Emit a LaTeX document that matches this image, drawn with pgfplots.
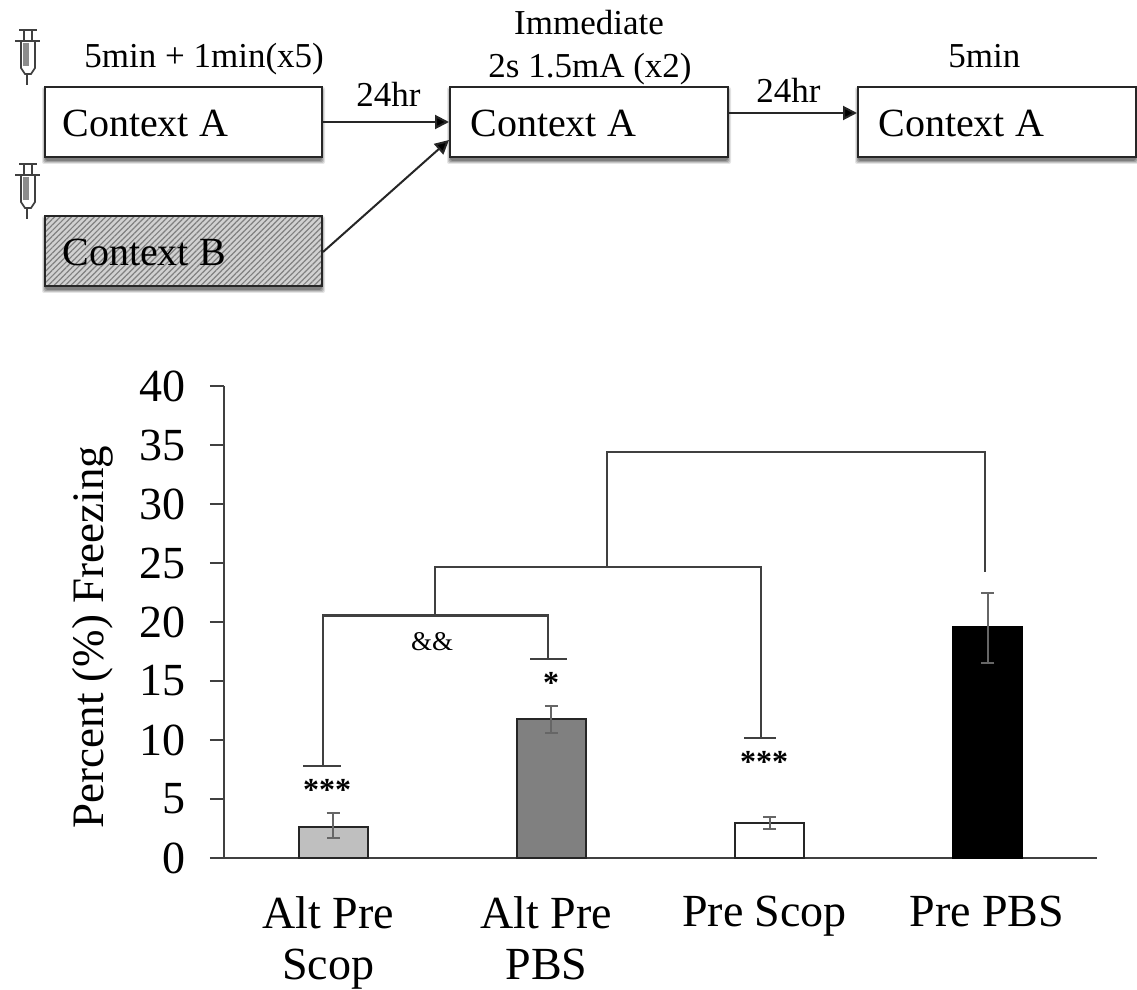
\documentclass[border=0pt]{standalone}
\usepackage{fontspec}
\setmainfont{Liberation Serif}
\usepackage{pgfplots}
\pgfplotsset{compat=1.18}
\usetikzlibrary{arrows.meta,patterns.meta}
\definecolor{linec}{HTML}{404040}
\newcommand{\fs}[1]{\fontsize{#1}{#1}\selectfont}
\newcommand{\ctxbox}[5]{% x0 y0 x1 y1 fill-options
  \foreach \k/\o in {4/0.10,3/0.14,2/0.18,0.8/0.22}{
    \fill[black,opacity=\o,rounded corners=1pt] (#1-\k+1,#2+4-\k) rectangle (#3+\k-1,#4+3+\k);
  }
  \fill[white] (#1,#2) rectangle (#3,#4);
  \path[#5] (#1,#2) rectangle (#3,#4);
  \draw[black!85,line width=1pt] (#1,#2) rectangle (#3,#4);
}
\newcommand{\syringe}[1]{%
  \begin{scope}[yshift=#1,black!75,line width=.8pt]
    \draw[line width=.9pt] (19,30) -- (37,30);
    \draw (24,30) -- (24,41) (32,30) -- (32,41);
    \draw[line width=1.1pt] (15,41) -- (40,41);
    \draw[line width=.9pt] (21,41) -- (21,68) -- (25,74) -- (31,74) -- (35,68) -- (35,41);
    \fill[black!45] (23,43) rectangle (29,66);
    \draw[line width=1.1pt] (27,74) -- (27,85);
  \end{scope}
}
\begin{document}
\begin{tikzpicture}
\useasboundingbox (0pt,0pt) rectangle (568.5pt,-495pt);
\begin{axis}[
  at={(112pt,-429pt)}, anchor=south west,
  scale only axis, width=436.5pt, height=236pt,
  xmin=-0.5, xmax=3.5, ymin=0, ymax=40,
  axis x line*=bottom, axis y line*=left,
  axis line style={draw=linec,line width=1pt,-},
  ytick={0,5,...,40},
  xtick={0,1,2,3},
  xticklabels={Alt Pre\\Scop,Alt Pre\\PBS,Pre Scop,\hspace{4pt}Pre PBS},
  x tick label style={align=center,font=\fontsize{23}{25.5}\selectfont,yshift=-8.6pt,xshift=-2.5pt},
  y tick label style={font=\fs{23},xshift=-8.5pt},
  /pgf/number format/assume math mode=true,
  tick align=outside,
  major tick length=7pt,
  ytick style={draw=linec,line width=.8pt},
  xtick style={draw=none},
  ylabel={Percent (\%) Freezing},
  ylabel style={font=\fs{22.5},at={(axis description cs:-0.1386,0.468)},anchor=base},
  ybar, bar width=34.5pt, bar shift=0pt,
  clip=false,
  error bars/y dir=both, error bars/y explicit,
  error bars/error bar style={draw=black!60,line width=1pt},
  error bars/error mark options={draw=black!60,line width=1pt,mark size=3.25pt,rotate=90},
]
\addplot[fill=black!25,draw=black!85,line width=1pt] coordinates {(0,2.63) +=(0,1.17) -=(0,0.93)};
\addplot[fill=black!50,draw=black!85,line width=1pt] coordinates {(1,11.8) +=(0,1.1) -=(0,1.2)};
\addplot[fill=white,draw=black!85,line width=1pt] coordinates {(2,2.97) +=(0,0.53) -=(0,0.52)};
\addplot[fill=black,draw=black,line width=1pt] coordinates {(3,19.6) +=(0,2.9) -=(0,3.1)};
\end{axis}
\begin{scope}[x=0.5pt,y=-0.5pt]
  % brackets
  \draw[linec,line width=1.1pt] (303,766) -- (341,766) (323,766) -- (323,615.5) -- (548,615.5) -- (548,659) (530,659) -- (567,659);
  \draw[linec,line width=1.1pt] (435,615.5) -- (435,567) -- (761,567) -- (761,738) (744,738) -- (776,738);
  \draw[linec,line width=1.1pt] (607,567) -- (607,452) -- (985,452) -- (985,572);
  \tikzset{t/.style={inner sep=0pt,anchor=base}}
  \node[t,font=\fs{16}\bfseries] at (327,800) {***};
  \node[t,font=\fs{16}\bfseries] at (551,693) {*};
  \node[t,font=\fs{16}\bfseries] at (764,772) {***};
  \node[t,font=\fs{13.5}] at (432,650) {\&\&};
  % diagram
  \ctxbox{45}{87}{322}{157}{}
  \ctxbox{45}{216}{322}{286}{fill=black!18,postaction={pattern={Lines[angle=45,distance=2pt,line width=.6pt]},pattern color=black!50}}
  \ctxbox{450}{87}{728}{157}{}
  \ctxbox{858}{87}{1136}{157}{}
  \tikzset{w/.style={inner sep=0pt,anchor=base west}}
  \node[w,font=\fs{20}] at (62,137) {Context A};
  \node[w,font=\fs{20}] at (62,266) {Context B};
  \node[w,font=\fs{20}] at (470,137) {Context A};
  \node[w,font=\fs{20}] at (878,137) {Context A};
  \node[w,font=\fs{17.5}] at (84,68) {5min + 1min(x5)};
  \node[t,font=\fs{17.5}] at (589,35) {Immediate};
  \node[t,font=\fs{17.5}] at (590,78) {2s 1.5mA (x2)};
  \node[w,font=\fs{17.5}] at (356,107) {24hr};
  \node[w,font=\fs{17.5}] at (756,103) {24hr};
  \node[w,font=\fs{17.5}] at (948,68) {5min};
  \tikzset{ar/.style={draw=black!85,line width=1pt,-{Stealth[length=7pt,width=7pt,fill=black,inset=0pt]}}}
  \draw[ar] (323,122) -- (449,122);
  \draw[ar] (323,252) -- (449,140);
  \draw[ar] (729,113) -- (857,113);
  \syringe{0pt}
  \syringe{-67pt}
\end{scope}
\end{tikzpicture}
\end{document}
